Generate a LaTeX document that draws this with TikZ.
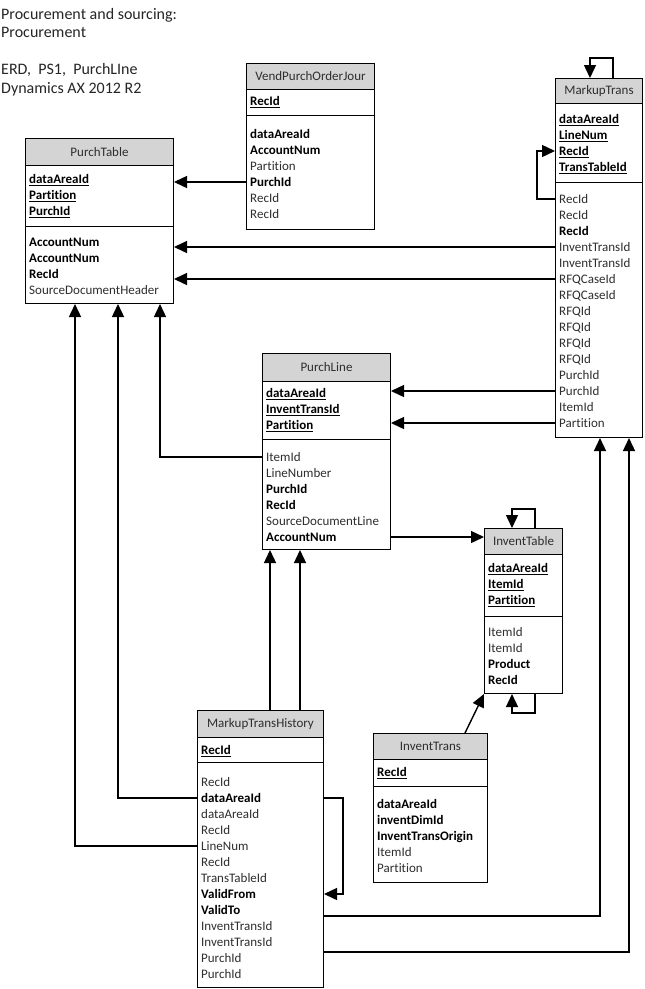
\documentclass[tikz,border=0pt]{standalone}
\usepackage{fontspec}
\setmainfont{Carlito}[Ligatures=NoCommon]
\usetikzlibrary{arrows.meta,calc}
\definecolor{hdrgray}{gray}{0.83}
\definecolor{txtgray}{gray}{0.18}
\newcommand\fs{\fontsize{13}{16}\selectfont}
\newcommand\kf[1]{{\bfseries\color{black}\underline{#1}}}
\newcommand\bff[1]{{\bfseries\color{black}#1}}
\newcommand\fieldrows[4]{\foreach \fldtxt [count=\ri] in {#4} {\node[fld] (#1\ri) at (#2,{#3+16*(\ri-1)}) {\fldtxt};}}
\newcommand\tablebox[8]{%
  \node[tbox, minimum width=#4pt, minimum height=#5pt] (#1) at (#2,#3) {};
  \node[hdr, minimum width=#4pt, minimum height=#6pt] (#1h) at (#2,#3) {#8};
  \draw[boxline] ($(#1.north west)+(0,#7)$) -- ($(#1.north east)+(0,#7)$);
}
\tikzset{
  boxline/.style={draw=black, line width=1pt},
  tbox/.style={boxline, fill=white, anchor=north west, inner sep=0pt},
  hdr/.style={boxline, fill=hdrgray, anchor=north west, inner sep=0pt, font=\fs, text=txtgray},
  fld/.style={anchor=west, inner sep=0pt, text height=8.5pt, text depth=0pt, font=\fs, text=txtgray},
  ttl/.style={anchor=west, inner sep=0pt, text height=10.5pt, text depth=0pt, font=\fontsize{16}{19}\selectfont, text=black!85},
  conn/.style={line width=1.4pt, -{Triangle[length=13pt,width=12pt]}},
}
\begin{document}
\begin{tikzpicture}[x=1pt,y=-1pt]
\useasboundingbox[fill=white] (0,0) rectangle (645,989);

% titles
\node[ttl] (t1) at (1,14) {Procurement and sourcing:};
\node[ttl] (t2) at (1,32) {Procurement};
\node[ttl] (t3) at (1,69) {ERD,\ \ PS1,\ \ PurchLIne};
\node[ttl] (t4) at (1,88) {Dynamics AX 2012 R2};

% PurchTable
\tablebox{PT}{25}{138}{148}{165}{27}{88}{PurchTable}
\fieldrows{PTk}{29}{179}{\kf{dataAreaId},\kf{Partition},\kf{PurchId}}
\fieldrows{PTr}{29}{242}{\bff{AccountNum},\bff{AccountNum},\bff{RecId},SourceDocumentHeader}

% VendPurchOrderJour
\tablebox{VJ}{246}{63}{128}{166}{26}{52}{VendPurchOrderJour}
\fieldrows{VJk}{250}{101}{\kf{RecId}}
\fieldrows{VJr}{250}{134}{\bff{dataAreaId},\bff{AccountNum},Partition,\bff{PurchId},RecId,RecId}

% MarkupTrans
\tablebox{MT}{555}{78}{87}{359}{25}{104}{MarkupTrans}
\fieldrows{MTk}{559}{119}{\kf{dataAreaId},\kf{LineNum},\kf{RecId},\kf{TransTableId}}
\fieldrows{MTr}{559}{199}{RecId,RecId,\bff{RecId},InventTransId,InventTransId,RFQCaseId,RFQCaseId,RFQId,RFQId,RFQId,RFQId,PurchId,PurchId,ItemId,Partition}

% PurchLine
\tablebox{PL}{262}{353}{128}{196}{28}{86}{PurchLine}
\fieldrows{PLk}{266}{393}{\kf{dataAreaId},\kf{InventTransId},\kf{Partition}}
\fieldrows{PLr}{266}{457}{ItemId,LineNumber,\bff{PurchId},\bff{RecId},SourceDocumentLine,\bff{AccountNum}}

% InventTable
\tablebox{IT}{484}{528}{78}{165}{26}{88}{InventTable}
\fieldrows{ITk}{488}{568}{\kf{dataAreaId},\kf{ItemId},\kf{Partition}}
\fieldrows{ITr}{488}{632}{ItemId,ItemId,\bff{Product},\bff{RecId}}

% InventTrans
\tablebox{IX}{373}{733}{114}{149}{26}{53}{InventTrans}
\fieldrows{IXk}{377}{772}{\kf{RecId}}
\fieldrows{IXr}{377}{804}{\bff{dataAreaId},\bff{inventDimId},\bff{InventTransOrigin},ItemId,Partition}

% MarkupTransHistory
\tablebox{MH}{197}{710}{126}{277}{27}{52}{MarkupTransHistory}
\fieldrows{MHk}{201}{750}{\kf{RecId}}
\fieldrows{MHr}{201}{782}{RecId,\bff{dataAreaId},dataAreaId,RecId,LineNum,RecId,TransTableId,\bff{ValidFrom},\bff{ValidTo},InventTransId,InventTransId,PurchId,PurchId}

% connectors
\draw[conn] (VJ.west |- VJr4) -- (PT.east |- VJr4);
\draw[conn] (MT.west |- MTr4) -- (PT.east |- MTr4);
\draw[conn] (MT.west |- MTr6) -- (PT.east |- MTr6);
\draw[conn] (MT.west |- MTr13) -- (PL.east |- MTr13);
\draw[conn] (MT.west |- MTr15) -- (PL.east |- MTr15);
\draw[conn] (MT.west |- MTr1) -- ++(-18,0) |- (MT.west |- MTk3);
\draw[conn] ($(MT.north west)+(58,0)$) -- ++(0,-20) -| ($(MT.north west)+(35,0)$);

\draw[conn] (PL.west |- PLr1) -| ($(PT.south west)+(135,0)$);
\draw[conn] (PL.east |- PLr6) -- (IT.west |- PLr6);

\draw[conn] ($(IT.north west)+(51,0)$) -- ++(0,-19) -| ($(IT.north west)+(28,0)$);
\draw[conn] ($(IT.south west)+(51,0)$) -- ++(0,19) -| ($(IT.south west)+(28,0)$);
\draw[conn] ($(IX.north west)+(92,0)$) -- (IT.south west);

\coordinate (pl1) at ($(PL.south west)+(8,0)$);
\coordinate (pl2) at ($(PL.south west)+(38,0)$);
\draw[conn] (MH.north -| pl1) -- (pl1);
\draw[conn] (MH.north -| pl2) -- (pl2);
\draw[conn] (MH.west |- MHr2) -| ($(PT.south west)+(93,0)$);
\draw[conn] (MH.west |- MHr5) -| ($(PT.south west)+(50,0)$);
\draw[conn] (MH.east |- MHr2) -- ++(19,0) |- (MH.east |- MHr8);
\draw[conn] ($(MH.east |- MHr9)+(0,6)$) -| ($(MT.south west)+(45,0)$);
\draw[conn] ($(MH.east |- MHr11)+(0,10)$) -| ($(MT.south west)+(74,0)$);
\end{tikzpicture}
\end{document}
